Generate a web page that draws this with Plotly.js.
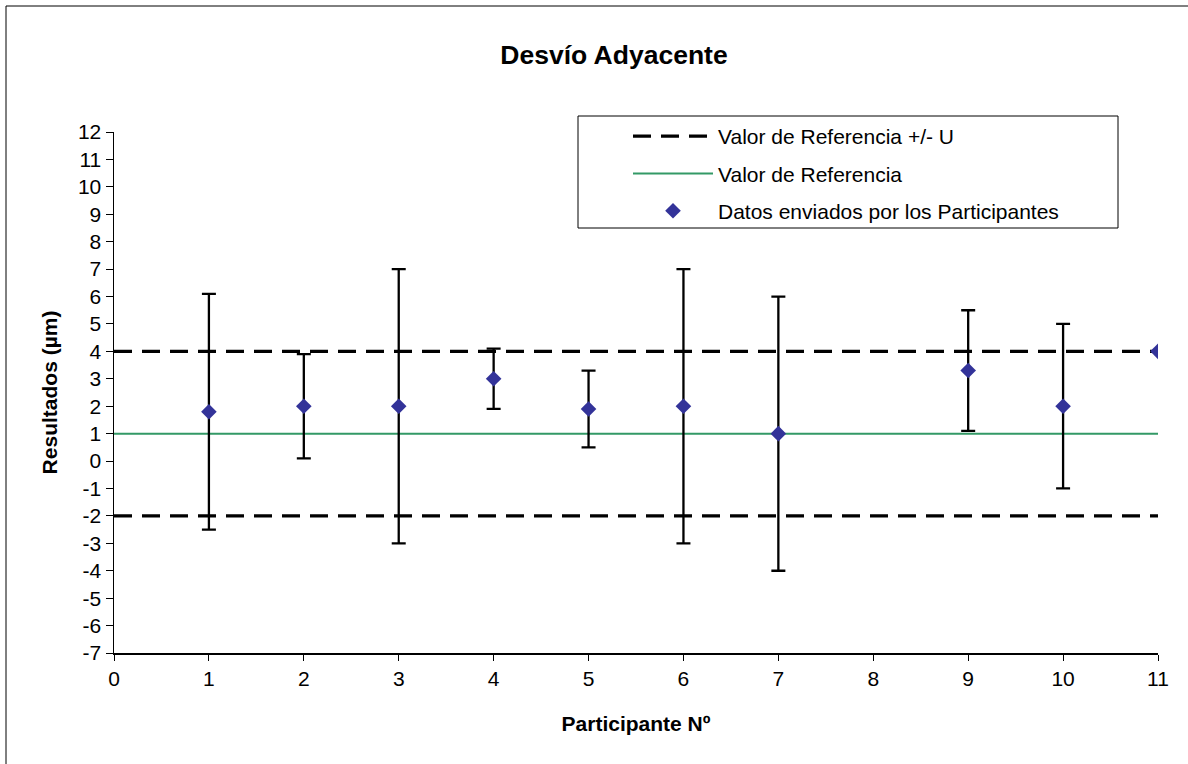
<!DOCTYPE html>
<html><head><meta charset="utf-8">
<script src="https://cdn.plot.ly/plotly-3.0.1.min.js"></script>
<style>html,body{margin:0;padding:0;background:#fff}#chart{width:1188px;height:764px}</style>
</head><body><div id="chart"></div>
<script>
// Data
const participants = [1, 2, 3, 4, 5, 6, 7, 9, 10, 11];
const results      = [1.8, 2.0, 2.0, 3.0, 1.9, 2.0, 1.0, 3.3, 2.0, 4.0];
const upperLimits  = [6.1, 3.9, 7.0, 4.1, 3.3, 7.0, 6.0, 5.5, 5.0, null];
const lowerLimits  = [-2.5, 0.1, -3.0, 1.9, 0.5, -3.0, -4.0, 1.1, -1.0, null];
const referenceValue = 1;
const upperBound = 4;
const lowerBound = -2;
const xSpan = [0, 11];
const yTickVals = [-7,-6,-5,-4,-3,-2,-1,0,1,2,3,4,5,6,7,8,9,10,11,12];
const yTickText = ['-7','-6','-5','-4','-3','-2','-1','0','1','2','3','4','5','6','7','8','9','10','11','12'];
const xTickVals = [0,1,2,3,4,5,6,7,8,9,10,11];

const errPlus  = results.map((v, i) => upperLimits[i] === null ? null : +(upperLimits[i] - v).toFixed(3));
const errMinus = results.map((v, i) => lowerLimits[i] === null ? null : +(v - lowerLimits[i]).toFixed(3));

const FONT = 'Liberation Sans, Arial, sans-serif';

const traces = [
  {
    type: 'scatter', mode: 'lines', name: 'Valor de Referencia +/- U',
    x: [xSpan[0], xSpan[1], null, xSpan[0], xSpan[1]],
    y: [upperBound, upperBound, null, lowerBound, lowerBound],
    line: {color: '#000000', width: 3.2, dash: '18px,10px'},
    legendgroup: 'a', hoverinfo: 'skip'
  },
  {
    type: 'scatter', mode: 'lines', name: 'Valor de Referencia',
    x: xSpan, y: [referenceValue, referenceValue],
    line: {color: '#339966', width: 2},
    legendgroup: 'b', hoverinfo: 'skip'
  },
  {
    type: 'scatter', mode: 'markers', name: 'Datos enviados por los Participantes',
    x: participants, y: results,
    marker: {symbol: 'diamond', size: 12, color: '#333399', line: {width: 0}},
    error_y: {type: 'data', symmetric: false, array: errPlus, arrayminus: errMinus,
              color: '#000000', thickness: 2.3, width: 7},
    legendgroup: 'c'
  }
];

const layout = {
  width: 1188, height: 764,
  margin: {l: 114, r: 30, t: 132, b: 111},
  paper_bgcolor: '#ffffff', plot_bgcolor: '#ffffff',
  font: {family: FONT, color: '#000000', size: 21},
  title: {text: '<b>Desvío Adyacente</b>', font: {family: FONT, size: 26.5, color: '#000'},
          x: 614/1188, xref: 'container', xanchor: 'center',
          y: 1 - 55/764, yref: 'container', yanchor: 'middle'},
  xaxis: {
    range: xSpan, tickvals: xTickVals, showgrid: false, zeroline: false,
    showline: true, linecolor: '#000', linewidth: 1.5,
    ticks: 'outside', ticklen: 6, tickcolor: '#000', tickwidth: 1,
    tickfont: {family: FONT, size: 21, color: '#000'},
    title: {text: '<b>Participante Nº</b>', font: {family: FONT, size: 21, color: '#000'}, standoff: 27},
    automargin: false, fixedrange: true
  },
  yaxis: {
    range: [-7, 12], tickvals: yTickVals, ticktext: yTickText, showgrid: false, zeroline: false,
    showline: true, linecolor: '#000', linewidth: 1.5,
    ticks: 'outside', ticklen: 7, tickcolor: '#000', tickwidth: 1,
    tickfont: {family: FONT, size: 21, color: '#000'},
    title: {text: '<b>Resultados (µm)</b>', font: {family: FONT, size: 21, color: '#000'}, standoff: 14},
    automargin: false, fixedrange: true
  },
  showlegend: true,
  legend: {
    x: (628 - 114) / 1044, y: (653 - 116) / 521, xanchor: 'left', yanchor: 'top',
    bgcolor: 'rgba(0,0,0,0)', borderwidth: 0,
    font: {family: FONT, size: 21, color: '#000'},
    itemwidth: 80, tracegroupgap: 7, traceorder: 'grouped'
  },
  shapes: [
    {type: 'rect', xref: 'paper', yref: 'paper', layer: 'below',
     x0: (6 - 114) / 1044, x1: 1.2, y0: -0.5, y1: (653 - 6) / 521,
     line: {color: '#000', width: 1}, fillcolor: 'rgba(0,0,0,0)'},
    {type: 'rect', xref: 'paper', yref: 'paper', layer: 'above',
     x0: (578 - 114) / 1044, x1: (1118 - 114) / 1044, y0: (653 - 228) / 521, y1: (653 - 116) / 521,
     line: {color: '#000', width: 1}, fillcolor: 'rgba(0,0,0,0)'}
  ]
};

Plotly.newPlot('chart', traces, layout, {displayModeBar: false, staticPlot: true});
</script>
</body></html>
